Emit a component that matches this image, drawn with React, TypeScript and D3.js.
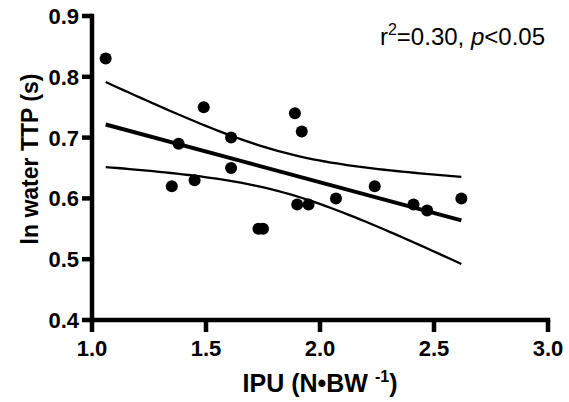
import React from "react";
import * as d3 from "d3";

const ipu = [1.06, 1.49, 1.38, 1.35, 1.45, 1.61, 1.61, 1.89, 1.92, 1.9, 1.95, 1.73, 1.75, 2.07, 2.24, 2.41, 2.47, 2.62];
const ttp = [0.83, 0.75, 0.69, 0.62, 0.63, 0.7, 0.65, 0.74, 0.71, 0.59, 0.59, 0.55, 0.55, 0.6, 0.62, 0.59, 0.58, 0.6];
const xTicks = [1.0, 1.5, 2.0, 2.5, 3.0];
const yTicks = [0.4, 0.5, 0.6, 0.7, 0.8, 0.9];
const T_CRIT = 2.12; // t(16, 0.975)

export default function App() {
  const W = 569, H = 402;
  const x = d3.scaleLinear().domain([1, 3]).range([92, 548]);
  const y = d3.scaleLinear().domain([0.4, 0.9]).range([320, 16]);

  const n = ipu.length;
  const mx = d3.mean(ipu)!;
  const my = d3.mean(ttp)!;
  let sxx = 0, sxy = 0;
  for (let i = 0; i < n; i++) { sxx += (ipu[i] - mx) ** 2; sxy += (ipu[i] - mx) * (ttp[i] - my); }
  const b = sxy / sxx;
  const a = my - b * mx;
  let rss = 0;
  for (let i = 0; i < n; i++) rss += (ttp[i] - a - b * ipu[i]) ** 2;
  const s = Math.sqrt(rss / (n - 2));
  const [xmin, xmax] = d3.extent(ipu) as [number, number];
  const xs = d3.range(0, 61).map(k => xmin + (xmax - xmin) * k / 60);
  const band = (sign: number) => xs.map(v => [v, a + b * v + sign * T_CRIT * s * Math.sqrt(1 / n + (v - mx) ** 2 / sxx)] as [number, number]);
  const line = d3.line<[number, number]>().x(d => x(d[0])).y(d => y(d[1]));

  const font = "Arial, 'Liberation Sans', Helvetica, sans-serif";
  const aw = 4.5;
  return (
    <svg width={W} height={H} style={{ position: "absolute", left: 0, top: 0, background: "#fff" }} fontFamily={font}>
      <path d={line(band(1))!} fill="none" stroke="#000" strokeWidth={2.3} />
      <path d={line(band(-1))!} fill="none" stroke="#000" strokeWidth={2.3} />
      <path d={line([[xmin, a + b * xmin], [xmax, a + b * xmax]])!} fill="none" stroke="#000" strokeWidth={4} />
      {ipu.map((v, i) => <circle key={i} cx={x(v)} cy={y(ttp[i])} r={6} fill="#000" />)}
      <line x1={x(1)} x2={x(3) + aw / 2} y1={y(0.4)} y2={y(0.4)} stroke="#000" strokeWidth={aw} />
      <line x1={x(1)} x2={x(1)} y1={y(0.4) + aw / 2} y2={y(0.9) - aw / 2} stroke="#000" strokeWidth={aw} />
      {xTicks.map(t => (
        <g key={t}>
          <line x1={x(t)} x2={x(t)} y1={y(0.4)} y2={y(0.4) + 12} stroke="#000" strokeWidth={aw} />
          <text x={x(t)} y={356} textAnchor="middle" fontSize={22} fontWeight="bold">{t.toFixed(1)}</text>
        </g>
      ))}
      {yTicks.map(t => (
        <g key={t}>
          <line x1={x(1) - 10} x2={x(1)} y1={y(t)} y2={y(t)} stroke="#000" strokeWidth={aw} />
          <text x={79} y={y(t) + 8} textAnchor="end" fontSize={22} fontWeight="bold">{t.toFixed(1)}</text>
        </g>
      ))}
      <text x={320} y={392} textAnchor="middle" fontSize={25} fontWeight="bold">
        IPU (N•BW <tspan fontSize={16} dy={-10}>-1</tspan><tspan dy={10}>)</tspan>
      </text>
      <text transform={`translate(38,${159}) rotate(-90)`} textAnchor="middle" fontSize={23} fontWeight="bold">ln water TTP (s)</text>
      <text x={545} y={45} textAnchor="end" fontSize={24}>
        r<tspan fontSize={16} dy={-10}>2</tspan><tspan dy={10}>=0.30, </tspan><tspan fontStyle="italic">p</tspan>&lt;0.05
      </text>
    </svg>
  );
}
